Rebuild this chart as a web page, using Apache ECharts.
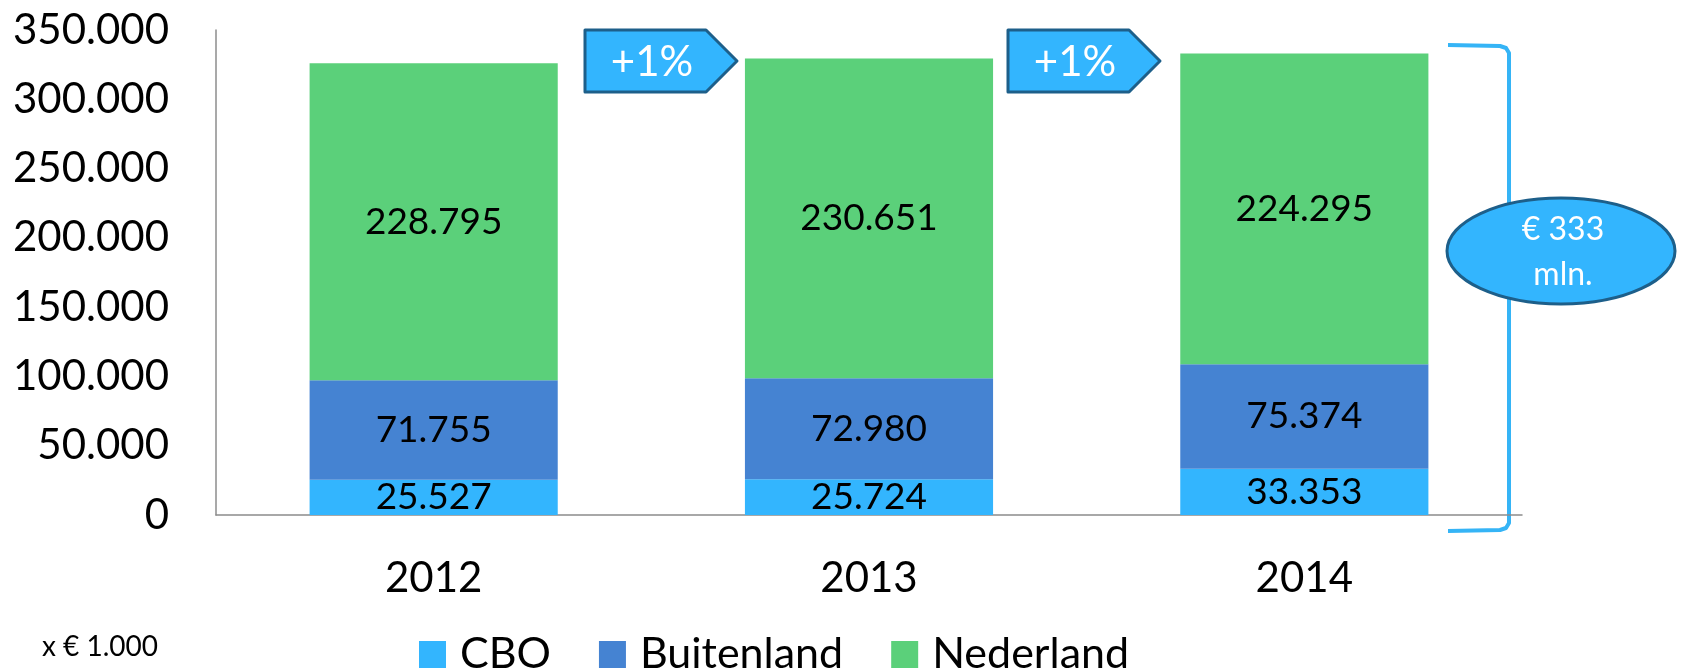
<!DOCTYPE html>
<html>
<head>
<meta charset="utf-8">
<title>CBO / Buitenland / Nederland</title>
<script src="https://cdn.jsdelivr.net/npm/echarts@6/dist/echarts.min.js"></script>
<style>
  html, body { margin: 0; padding: 0; background: #fff; }
  #chart { width: 1683px; height: 670px; }
</style>
</head>
<body>
<div id="chart"></div>
<script>
// data, x € 1.000
var years = ["2012", "2013", "2014"];
var cbo = [25527, 25724, 33353];
var buitenland = [71755, 72980, 75374];
var nederland = [228795, 230651, 224295];
var yTicks = { min: 0, max: 350000, step: 50000 };
var growthLabels = ["+1%", "+1%"];
var totalLabel = "€ 333\nmln.";
var unitLabel = "x € 1.000";

var font = "Lato, Carlito, Calibri, sans-serif";
var lightBlue = "#33b5fe";
var midBlue = "#4583d2";
var green = "#5bd07a";
var darkEdge = "#1d5f8a";

// 350000 -> "350.000"
function dots(v) {
  return String(v).replace(/\B(?=(\d{3})+(?!\d))/g, ".");
}

function barSeries(name, data, color) {
  return {
    name: name,
    type: "bar",
    stack: "total",
    barWidth: "57%",
    data: data,
    itemStyle: { color: color },
    label: {
      show: true,
      position: "inside",
      color: "#000",
      fontFamily: font,
      fontSize: 37,
      formatter: function (p) { return dots(p.value); }
    }
  };
}

// +1% arrows between the bars
function arrow(x, text) {
  return {
    type: "group",
    x: x,
    y: 30,
    children: [
      {
        type: "polygon",
        shape: { points: [[0, 0], [121, 0], [152, 31], [121, 62], [0, 62]] },
        style: { fill: lightBlue, stroke: darkEdge, lineWidth: 3, lineJoin: "round" }
      },
      {
        type: "text",
        x: 67,
        y: 32,
        style: {
          text: text,
          fill: "#fff",
          font: "42px " + font,
          textAlign: "center",
          textVerticalAlign: "middle"
        }
      }
    ]
  };
}

var myChart = echarts.init(document.getElementById("chart"));
myChart.setOption({
  animation: false,
  textStyle: { fontFamily: font },
  grid: { left: 216, right: 161, top: 30, bottom: 155 },
  legend: {
    data: ["CBO", "Buitenland", "Nederland"],
    left: 414,
    top: 628,
    icon: "rect",
    itemWidth: 27,
    itemHeight: 27,
    itemGap: 48,
    textStyle: { fontFamily: font, fontSize: 43, color: "#000", padding: [0, 0, 0, 9] }
  },
  xAxis: {
    type: "category",
    data: years,
    axisLine: { show: true, lineStyle: { color: "#8c8c8c", width: 1.5 } },
    axisTick: { show: false },
    axisLabel: { color: "#000", fontSize: 42, fontFamily: font, margin: 42 }
  },
  yAxis: {
    type: "value",
    min: yTicks.min,
    max: yTicks.max,
    interval: yTicks.step,
    axisLine: { show: true, lineStyle: { color: "#8c8c8c", width: 1.5 } },
    axisTick: { show: false },
    splitLine: { show: false },
    axisLabel: {
      color: "#000",
      fontSize: 42,
      fontFamily: font,
      margin: 47,
      formatter: function (v) { return dots(v); }
    }
  },
  series: [
    barSeries("CBO", cbo, lightBlue),
    barSeries("Buitenland", buitenland, midBlue),
    barSeries("Nederland", nederland, green)
  ],
  graphic: [
    arrow(585, growthLabels[0]),
    arrow(1008, growthLabels[1]),
    {
      // bracket round the 2014 bar
      type: "polyline",
      shape: {
        points: [[1448, 45], [1500, 46], [1506, 48], [1509, 53], [1509, 523], [1506, 528], [1500, 530], [1448, 531]]
      },
      style: { fill: null, stroke: "#35b4f6", lineWidth: 4, lineJoin: "round" }
    },
    {
      type: "ellipse",
      shape: { cx: 1561, cy: 251, rx: 114, ry: 53 },
      style: { fill: lightBlue, stroke: darkEdge, lineWidth: 3 },
      z: 10
    },
    {
      type: "text",
      x: 1563,
      y: 252,
      z: 11,
      style: {
        text: totalLabel,
        fill: "#fff",
        font: "32px " + font,
        lineHeight: 45,
        textAlign: "center",
        textVerticalAlign: "middle"
      }
    },
    {
      type: "text",
      x: 42,
      y: 633,
      style: { text: unitLabel, fill: "#000", font: "28px " + font }
    }
  ]
});
window.addEventListener("resize", function () {
  myChart.resize();
});
</script>
</body>
</html>
